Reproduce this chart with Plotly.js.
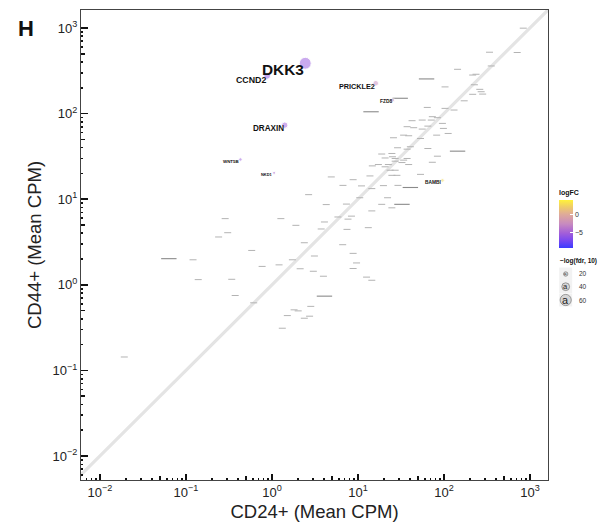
<!DOCTYPE html>
<html><head><meta charset="utf-8">
<script src="https://cdn.plot.ly/plotly-3.0.1.min.js"></script>
<style>html,body{margin:0;padding:0;background:#fff}#chart{width:608px;height:525px}</style>
</head><body><div id="chart"></div>
<script>
// ---- labelled genes ----
const labGenes = ['DKK3','CCND2','PRICKLE2','DRAXIN','BAMBI','FZD8','WNT5B','NKD1'];
const labCD24 = [2.44, 0.88, 16.1, 1.41, 96, 25.5, 0.43, 1.06];
const labCD44 = [387, 276, 226, 73.3, 16.6, 144, 29.1, 20.3];
const labLogFC = [-5.6, -6.0, -2.6, -5.2, 2.5, -2.5, -5.5, -4.3];
const labNegLogFdr = [70, 40, 33, 37, 22, 22, 20, 18];

// ---- medium (illegible) labels ----
const medCD24 = [62.8, 31, 14.2, 144, 40.7, 32.5, 0.0633, 4.08];
const medCD44 = [254, 151, 105, 36.4, 13.7, 8.71, 2.02, 0.737];

// ---- small (illegible) labels ----
const smallCD24 = [836,339,711,355,144,216,236,103,226,261,271,216,282,172,64,103,131,73.3,84,71.3,42.6,55.9,96,37.3,44.5,55.9,65,98.6,112,25.9,34,38.9,82.3,53.4,28.9,40.7,37.3,65,18.9,24.8,25.2,84,20.7,27.1,34,37.3,27.1,32.5,38.9,73.3,22.6,20.7,14.7,17.3,23.7,27.1,53.4,24.8,28.4,13.8,8.79,6.7,11,19.8,29.2,14.5,4.9,2.67,10.5,22.1,4.28,7.35,18.9,24.8,14.5,0.286,1.27,1.9,5.85,8.41,7.67,4.08,13.2,7.46,3.74,0.306,0.24,0.582,2.38,6.65,3.12,8.79,9.64,8.79,12.6,14.5,0.121,1.73,1.21,0.769,2.13,3.03,3.97,0.139,0.341,0.374,0.614,2.83,1.81,2.02,1.51,2.38,2.74,1.32,0.0192];
const smallCD44 = [995,521,517,360,329,282,288,205,217,192,180,168,169,141,118,115,110,92,89.5,84,82.6,84,76.8,70.3,68.4,65.9,71.4,67.1,58.6,52.2,56,55.1,56,51.2,39.9,41,38.4,39.1,33.7,34.2,31.3,31.8,30.3,29.9,28.6,29.9,27.8,26.8,25.4,27,25.4,23.9,24.5,25.4,21.8,21.8,19.5,19,19,18.7,16.9,14.5,14.3,14.4,14.5,13.3,18.2,11.3,10.4,10.4,8.65,8.77,8.71,7.93,7.3,5.93,5.93,4.95,6.2,6.34,5.85,5.42,4.65,4.44,4.49,4.06,3.62,2.52,3.1,2.94,2.17,2.33,1.8,1.55,1.23,1.13,1.96,1.96,1.71,1.64,1.54,1.44,1.26,1.15,1.16,0.75,0.616,0.56,0.51,0.496,0.437,0.407,0.43,0.311,0.1435];

// identity line
const diagVals = [0.001, 10000];

// ---- ticks ----
const decadeVals = [0.01, 0.1, 1, 10, 100, 1000];
const decadeText = ['10<sup>−2</sup>','10<sup>−1</sup>','10<sup>0</sup>','10<sup>1</sup>','10<sup>2</sup>','10<sup>3</sup>'];
const midVals = [0.05, 0.5, 5, 50, 500];
const minorDigits = [2,3,4,6,7,8,9];
const minorDecades = [0.001, 0.01, 0.1, 1, 10, 100, 1000];
const minorVals = [];
minorDecades.forEach(d => minorDigits.forEach(k => minorVals.push(+(d*k).toPrecision(3))));

// legend
const sizeLegendVals = [20, 40, 60];
const cbTickVals = [-5, 0];
const cbTickText = ['−5', '0'];

const FONT = '"Liberation Sans", Arial, Helvetica, sans-serif';
const xr = [-2.22, 3.21], yr = [-2.28, 3.21];
const textSize = v => v * 0.22;
const ptSize = v => v * 0.17;

const colorscale = [[0,'#3b3bff'],[0.16,'#7a48f0'],[0.314,'#a45fd8'],[0.5,'#c78ac0'],[0.706,'#dfab98'],[0.85,'#eecb6a'],[1,'#fff23a']];

const traces = [
  {x: diagVals, y: diagVals, mode:'lines', line:{color:'#e4e4e4', width:3.2}, hoverinfo:'skip', showlegend:false},
  {x: smallCD24, y: smallCD44, mode:'markers', marker:{symbol:'line-ew', size:5, line:{width:1, color:'#b3b3b3'}}, hoverinfo:'skip', showlegend:false},
  {x: medCD24, y: medCD44, mode:'markers', marker:{symbol:'line-ew', size:11, line:{width:1.1, color:'#8a8a8a'}}, hoverinfo:'skip', showlegend:false},
  {x: labCD24, y: labCD44, mode:'markers', text: labGenes,
   marker:{color: labLogFC, cmin:-9, cmax:3.75, colorscale: colorscale, opacity:0.5, size: labNegLogFdr.map(ptSize),
     showscale:true,
     colorbar:{x:(559-81)/467, xanchor:'left', xpad:0, y:(480-217.5)/470, yanchor:'middle', ypad:0,
       len:61, lenmode:'pixels', thickness:14, thicknessmode:'pixels', outlinewidth:0,
       tickmode:'array', tickvals: cbTickVals, ticktext: cbTickText, ticks:'inside', ticklen:3, tickcolor:'#ffffff', tickwidth:1,
       tickfont:{family:FONT, size:7, color:'#333'},
       title:{text:'<b>logFC</b>', side:'top', font:{family:FONT, size:7, color:'#111'}}}},
   showlegend:false},
  // helper traces binding overlay axes for log ticks
  {x: diagVals, y: diagVals, xaxis:'x2', yaxis:'y2', mode:'lines', line:{width:0}, hoverinfo:'skip', showlegend:false},
  {x: diagVals, y: diagVals, xaxis:'x3', yaxis:'y3', mode:'lines', line:{width:0}, hoverinfo:'skip', showlegend:false}
];

const annotations = labGenes.map((g,i) => ({
  x: Math.log10(labCD24[i]), y: Math.log10(labCD44[i]), xref:'x', yref:'y', text: '<b>'+g+'</b>', showarrow:false,
  xanchor:'right', yanchor:'top', xshift:1, yshift: 2 + textSize(labNegLogFdr[i])*0.12,
  font:{family:FONT, size: textSize(labNegLogFdr[i]), color:'#111'}
}));
annotations.push({xref:'paper', yref:'paper', x:(26-81)/467, y:(480-28)/470, text:'<b>H</b>', showarrow:false,
  xanchor:'center', yanchor:'middle', font:{family:FONT, size:22, color:'#111'}});
annotations.push({xref:'paper', yref:'paper', x:(558-81)/467, y:(480-260.7)/470, text:'<b>−log(fdr, 10)</b>', showarrow:false,
  xanchor:'left', yanchor:'middle', font:{family:FONT, size:6.5, color:'#111'}});

const keyY = [274, 286.7, 300];
const shapes = [];
sizeLegendVals.forEach((v,i) => {
  const px = (565.7-81)/467, py = (480-keyY[i])/470;
  shapes.push({type:'rect', xref:'paper', yref:'paper', xsizemode:'pixel', ysizemode:'pixel', xanchor:px, yanchor:py,
    x0:-6.5, x1:6.5, y0:-6.5, y1:6.5, fillcolor:'#f2f2f2', line:{width:0}, layer:'below'});
  const r = ptSize(v)/2 + 0.5;
  shapes.push({type:'circle', xref:'paper', yref:'paper', xsizemode:'pixel', ysizemode:'pixel', xanchor:px, yanchor:py,
    x0:-r, x1:r, y0:-r, y1:r, fillcolor:'rgba(150,150,150,0.3)', line:{width:0.6, color:'#666'}});
  annotations.push({xref:'paper', yref:'paper', x:px, y:py, text:'a', showarrow:false, xanchor:'center', yanchor:'middle',
    font:{family:FONT, size: textSize(v)*0.75+1, color:'#222'}});
  annotations.push({xref:'paper', yref:'paper', x:(577-81)/467, y:py, text:String(v), showarrow:false, xanchor:'left', yanchor:'middle',
    font:{family:FONT, size:6.5, color:'#333'}});
});

const baseAxis = {type:'log', showgrid:false, zeroline:false};
const layout = {
  width:608, height:525, margin:{l:81, r:60, t:10, b:45},
  paper_bgcolor:'#fff', plot_bgcolor:'#fff', font:{family:FONT},
  xaxis: Object.assign({}, baseAxis, {range:xr, tickmode:'array', tickvals:decadeVals, ticktext:decadeText,
    ticks:'inside', ticklen:6.5, tickwidth:1.6, tickcolor:'#111', showline:true, mirror:true, linecolor:'#444', linewidth:1,
    tickfont:{family:FONT, size:13, color:'#222'},
    title:{text:'CD24+ (Mean CPM)', font:{family:FONT, size:18.5, color:'#222'}, standoff:6}}),
  yaxis: Object.assign({}, baseAxis, {range:yr, tickmode:'array', tickvals:decadeVals, ticktext:decadeText,
    ticks:'inside', ticklen:6.5, tickwidth:1.6, tickcolor:'#111', showline:true, mirror:true, linecolor:'#444', linewidth:1,
    tickfont:{family:FONT, size:13, color:'#222'},
    title:{text:'CD44+ (Mean CPM)', font:{family:FONT, size:18.5, color:'#222'}, standoff:6}}),
  xaxis2: Object.assign({}, baseAxis, {range:xr, overlaying:'x', anchor:'y2', tickmode:'array', tickvals:midVals,
    ticks:'inside', ticklen:4.4, tickwidth:1.6, tickcolor:'#111', showticklabels:false, showline:false}),
  yaxis2: Object.assign({}, baseAxis, {range:yr, overlaying:'y', anchor:'x2', tickmode:'array', tickvals:midVals,
    ticks:'inside', ticklen:4.4, tickwidth:1.6, tickcolor:'#111', showticklabels:false, showline:false}),
  xaxis3: Object.assign({}, baseAxis, {range:xr, overlaying:'x', anchor:'y3', tickmode:'array', tickvals:minorVals,
    ticks:'inside', ticklen:2.4, tickwidth:1.6, tickcolor:'#111', showticklabels:false, showline:false}),
  yaxis3: Object.assign({}, baseAxis, {range:yr, overlaying:'y', anchor:'x3', tickmode:'array', tickvals:minorVals,
    ticks:'inside', ticklen:2.4, tickwidth:1.6, tickcolor:'#111', showticklabels:false, showline:false}),
  annotations: annotations,
  shapes: shapes,
  showlegend:false
};

Plotly.newPlot('chart', traces, layout, {staticPlot:true, displayModeBar:false});
</script></body></html>
